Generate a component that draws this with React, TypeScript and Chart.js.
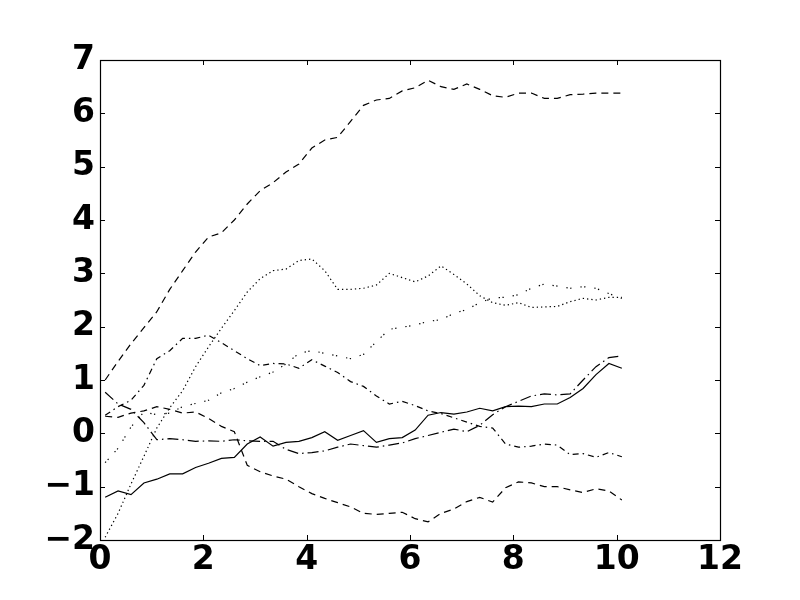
import React, { useEffect, useRef } from "react";
import { Chart, registerables } from "chart.js";

Chart.register(...registerables);

// shared x positions of the samples
const X_VALUES = [
  0.1, 0.35, 0.6, 0.85, 1.1, 1.35, 1.6, 1.85, 2.1, 2.35, 2.6, 2.85, 3.1, 3.35,
  3.6, 3.85, 4.1, 4.35, 4.6, 4.85, 5.1, 5.35, 5.6, 5.85, 6.1, 6.35, 6.6, 6.85,
  7.1, 7.35, 7.6, 7.85, 8.1, 8.35, 8.6, 8.85, 9.1, 9.35, 9.6, 9.85, 10.1,
];

// top dashed walk
const WALK_A = [
  1.0, 1.35, 1.68, 1.98, 2.28, 2.7, 3.05, 3.4, 3.68, 3.76, 4.0, 4.3, 4.55, 4.7,
  4.9, 5.05, 5.35, 5.5, 5.55, 5.85, 6.15, 6.25, 6.28, 6.42, 6.48, 6.62, 6.5,
  6.45, 6.55, 6.45, 6.33, 6.3, 6.38, 6.38, 6.28, 6.28, 6.35, 6.36, 6.38, 6.38,
  6.38,
];

// dotted walk
const WALK_B = [
  -1.95, -1.5, -0.95, -0.43, 0.1, 0.48, 0.8, 1.25, 1.62, 1.97, 2.3, 2.65, 2.9,
  3.05, 3.08, 3.24, 3.27, 3.05, 2.7, 2.7, 2.72, 2.78, 3.0, 2.92, 2.84, 2.95,
  3.14, 2.98, 2.8, 2.58, 2.45, 2.4, 2.45, 2.36, 2.37, 2.38, 2.47, 2.53, 2.5,
  2.55, 2.55,
];

// solid walk
const WALK_C = [
  -1.2, -1.08, -1.15, -0.93, -0.86, -0.76, -0.76, -0.64, -0.56, -0.47, -0.45,
  -0.2, -0.07, -0.24, -0.17, -0.15, -0.08, 0.03, -0.13, -0.04, 0.05, -0.17,
  -0.1, -0.08, 0.06, 0.34, 0.39, 0.36, 0.4, 0.47, 0.42, 0.5, 0.51, 0.5, 0.55,
  0.55, 0.67, 0.84, 1.1, 1.31, 1.22,
];

// dash-dot walk
const WALK_D = [
  0.34, 0.5, 0.62, 0.9, 1.4, 1.55, 1.78, 1.78, 1.84, 1.7, 1.55, 1.4, 1.27,
  1.31, 1.3, 1.22, 1.38, 1.26, 1.14, 0.97, 0.88, 0.7, 0.55, 0.6, 0.52, 0.42,
  0.37, 0.29, 0.21, 0.13, 0.1, -0.2, -0.26, -0.24, -0.2, -0.22, -0.4, -0.38,
  -0.45, -0.36, -0.44,
];

// lower dashed walk
const WALK_E = [
  0.32, 0.3, 0.38, 0.42, 0.5, 0.45, 0.38, 0.4, 0.28, 0.13, 0.03, -0.6, -0.72,
  -0.8, -0.86, -1.0, -1.13, -1.22, -1.3, -1.38, -1.5, -1.52, -1.5, -1.48, -1.6,
  -1.66, -1.5, -1.42, -1.28, -1.2, -1.29, -1.02, -0.91, -0.93, -1.0, -1.0,
  -1.06, -1.11, -1.04, -1.08, -1.25,
];

// sparse dotted walk
const WALK_F = [
  -0.55, -0.28, 0.12, 0.4, 0.35, 0.38, 0.5, 0.56, 0.62, 0.76, 0.84, 0.96, 1.06,
  1.15, 1.3, 1.5, 1.55, 1.5, 1.45, 1.4, 1.48, 1.72, 1.95, 1.99, 2.03, 2.1,
  2.13, 2.25, 2.32, 2.45, 2.54, 2.55, 2.6, 2.72, 2.8, 2.76, 2.72, 2.75, 2.72,
  2.62, 2.53,
];

// long dash-dot walk
const WALK_G = [
  0.77, 0.55, 0.45, 0.2, -0.12, -0.1, -0.12, -0.15, -0.14, -0.15, -0.12, -0.14,
  -0.15, -0.15, -0.3, -0.38, -0.36, -0.33, -0.26, -0.2, -0.23, -0.26, -0.22,
  -0.18, -0.1, -0.04, 0.02, 0.08, 0.03, 0.15, 0.35, 0.5, 0.6, 0.7, 0.74, 0.72,
  0.74, 1.0, 1.25, 1.42, 1.45,
];

const X_TICKS = [0, 2, 4, 6, 8, 10, 12];
const Y_TICKS = [-2, -1, 0, 1, 2, 3, 4, 5, 6, 7];

const SERIES = [
  { label: "A", values: WALK_A, dash: [7, 5] },
  { label: "B", values: WALK_B, dash: [1.3, 3] },
  { label: "C", values: WALK_C, dash: [] },
  { label: "D", values: WALK_D, dash: [6, 4, 1.5, 4] },
  { label: "E", values: WALK_E, dash: [7, 5] },
  { label: "F", values: WALK_F, dash: [1.3, 2.5, 1.3, 9] },
  { label: "G", values: WALK_G, dash: [11, 4, 1.5, 4] },
];

const FONT = { family: "'DejaVu Sans', sans-serif", size: 33, weight: "bold" as const, lineHeight: 1.2 };

const fmt = (v: number) => (v < 0 ? "\u2212" + Math.abs(v) : String(v));

const framePlugin = {
  id: "frameTicks",
  afterDatasetsDraw(chart: any) {
    const { ctx, chartArea } = chart;
    const { left, right, top, bottom } = chartArea;
    const xs = chart.scales.x;
    const ys = chart.scales.y;
    const L = 5;
    ctx.save();
    ctx.strokeStyle = "#000";
    ctx.lineWidth = 1;
    ctx.beginPath();
    for (const v of X_TICKS) {
      const px = Math.round(xs.getPixelForValue(v)) + 0.5;
      ctx.moveTo(px, bottom);
      ctx.lineTo(px, bottom - L);
      ctx.moveTo(px, top);
      ctx.lineTo(px, top + L);
    }
    for (const v of Y_TICKS) {
      const py = Math.round(ys.getPixelForValue(v)) + 0.5;
      ctx.moveTo(left, py);
      ctx.lineTo(left + L, py);
      ctx.moveTo(right, py);
      ctx.lineTo(right - L, py);
    }
    ctx.stroke();
    ctx.lineWidth = 1.2;
    ctx.strokeRect(Math.round(left) + 0.5, Math.round(top) + 0.5, Math.round(right - left), Math.round(bottom - top));
    ctx.restore();
  },
};

export default function App() {
  const ref = useRef<HTMLCanvasElement | null>(null);

  useEffect(() => {
    if (!ref.current) return;
    const chart = new Chart(ref.current, {
      type: "line",
      data: {
        datasets: SERIES.map((s) => ({
          label: s.label,
          data: X_VALUES.map((x, i) => ({ x, y: s.values[i] })),
          borderColor: "#000",
          borderWidth: 1.2,
          borderDash: s.dash,
          borderCapStyle: "butt" as const,
          pointRadius: 0,
          fill: false,
          tension: 0,
        })),
      },
      options: {
        animation: false,
        responsive: false,
        maintainAspectRatio: false,
        layout: { padding: { top: 60, right: 80, left: 0, bottom: 0 } },
        plugins: { legend: { display: false }, tooltip: { enabled: false } },
        scales: {
          x: {
            type: "linear",
            min: 0,
            max: 12,
            afterFit: (s: any) => {
              s.height = 60;
            },
            afterBuildTicks: (s: any) => {
              s.ticks = X_TICKS.map((v) => ({ value: v }));
            },
            grid: { display: false, drawTicks: false },
            border: { display: false },
            ticks: {
              color: "#000",
              font: FONT,
              padding: 1,
              maxRotation: 0,
              autoSkip: false,
              callback: (v: any) => fmt(Number(v)),
            },
          },
          y: {
            type: "linear",
            min: -2,
            max: 7,
            afterFit: (s: any) => {
              s.width = 100;
            },
            afterBuildTicks: (s: any) => {
              s.ticks = Y_TICKS.map((v) => ({ value: v }));
            },
            grid: { display: false, drawTicks: false },
            border: { display: false },
            ticks: {
              color: "#000",
              font: FONT,
              padding: 5,
              autoSkip: false,
              callback: (v: any) => fmt(Number(v)),
            },
          },
        },
      },
      plugins: [framePlugin],
    });
    return () => chart.destroy();
  }, []);

  return (
    <div style={{ position: "absolute", left: 0, top: 0, width: 800, height: 600, background: "#fff" }}>
      <canvas ref={ref} width={800} height={600} style={{ display: "block", width: 800, height: 600 }} />
    </div>
  );
}
